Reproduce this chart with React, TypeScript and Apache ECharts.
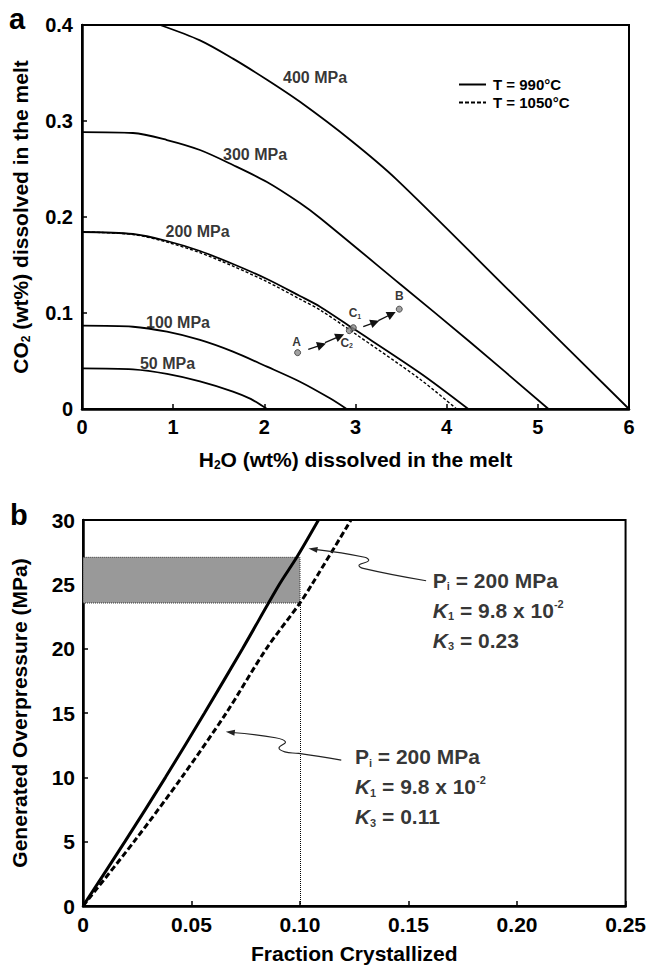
import React, { useEffect, useRef } from 'react';
import * as echarts from 'echarts';

const FONT = '"Liberation Sans", Arial, Helvetica, sans-serif';
const INK = '#000';

// ---------- Panel a : CO2 vs H2O isobars ----------
const xTicksA = [0, 1, 2, 3, 4, 5, 6];
const yTicksA = [0, 0.1, 0.2, 0.3, 0.4];

const iso400 = [[0.856, 0.4], [1.294, 0.384], [1.656, 0.365], [2.029, 0.343], [2.391, 0.32], [2.94, 0.2805], [3.452, 0.239], [4.7, 0.122], [6.0, 0]];
const iso300 = [[0, 0.2885], [0.559, 0.2875], [0.932, 0.2802], [1.294, 0.2698], [1.656, 0.2542], [2.029, 0.2365], [2.391, 0.2146], [2.611, 0.199], [3.488, 0.1302], [4.256, 0.0698], [5.117, 0]];
const iso200 = [[0, 0.1844], [0.559, 0.1823], [0.932, 0.175], [1.294, 0.1646], [1.656, 0.151], [2.029, 0.1354], [2.391, 0.1177], [2.611, 0.1066], [2.972, 0.084], [3.708, 0.0375], [4.237, 0]];
const iso200hot = [[0, 0.1844], [0.559, 0.1818], [0.932, 0.1738], [1.294, 0.1628], [1.656, 0.1488], [2.029, 0.1326], [2.391, 0.1145], [2.611, 0.1032], [2.972, 0.08], [3.708, 0.031], [4.11, 0]];
const iso100 = [[0, 0.0868], [0.559, 0.0857], [0.932, 0.0805], [1.294, 0.0719], [1.656, 0.0597], [2.029, 0.0441], [2.391, 0.0284], [2.72, 0.0111], [2.903, 0]];
const iso50 = [[0, 0.0424], [0.559, 0.0413], [0.932, 0.0366], [1.294, 0.0288], [1.656, 0.0182], [1.85, 0.0105], [2.03, 0]];

const legendNames = ['T = 990°C', 'T = 1050°C'];

const isobarLabels = [
  { name: '400 MPa', value: [2.556, 0.345] },
  { name: '300 MPa', value: [1.898, 0.2646] },
  { name: '200 MPa', value: [1.267, 0.1854] },
  { name: '100 MPa', value: [1.053, 0.0906] },
  { name: '50 MPa', value: [0.938, 0.0469] },
];

const samplePoints = [[2.365, 0.0587], [3.48, 0.104], [2.976, 0.0847], [2.932, 0.0816]];
const sampleLabels = [
  { name: '{m|A}', value: [2.355, 0.0701] },
  { name: '{m|B}', value: [3.48, 0.1177] },
  { name: '{m|C}{s|1}', value: [2.994, 0.1] },
  { name: '{m|C}{s|2}', value: [2.903, 0.0688] },
];
const pathArrows = [
  [[2.482, 0.0622], [2.629, 0.0667]],
  [[2.665, 0.0691], [2.83, 0.076]],
  [[3.085, 0.0857], [3.214, 0.0903]],
  [[3.25, 0.092], [3.397, 0.099]],
];

// ---------- Panel b : overpressure vs fraction crystallized ----------
const xTicksB = [0, 0.05, 0.1, 0.15, 0.2, 0.25];
const yTicksB = [0, 5, 10, 15, 20, 25, 30];
const curveK023 = [[0, 0], [0.0193, 5], [0.038, 10], [0.056, 15], [0.0735, 20], [0.0905, 25], [0.0985, 27.1], [0.1085, 30]];
const curveK011 = [[0, 0], [0.0235, 5], [0.0455, 10], [0.066, 15], [0.0845, 20], [0.1, 23.55], [0.1055, 25], [0.1235, 30]];
const bandLow = 23.55;
const bandHigh = 27.1;
const bandX = 0.1;

const connectorPaths = [
  [[0.1581, 25.28], [0.1291, 26.24], [0.1272, 26.5], [0.1316, 26.83], [0.1298, 27.1], [0.1039, 27.79]],
  [[0.119, 11.34], [0.0994, 11.86], [0.093, 11.98], [0.0903, 12.28], [0.0933, 12.75], [0.0887, 13.08], [0.0658, 13.54]],
];
const annotations = [
  { name: '{n|P}{s|i}{n| = 200 MPa}\n{k|K}{s|1}{n| = 9.8 x 10}{p|-2}\n{k|K}{s|3}{n| = 0.23}', value: [0.1612, 23.0] },
  { name: '{n|P}{s|i}{n| = 200 MPa}\n{k|K}{s|1}{n| = 9.8 x 10}{p|-2}\n{k|K}{s|3}{n| = 0.11}', value: [0.1253, 9.27] },
];

const bold = (size: number) => ({ fontFamily: FONT, fontWeight: 'bold' as const, fontSize: size, color: INK });
const plainLabel = { textBorderWidth: 0, textShadowBlur: 0, color: INK };

function buildOption(): any {
  const axisCommon = {
    type: 'value',
    splitLine: { show: false },
    axisLine: { show: true, onZero: false, lineStyle: { color: '#000', width: 2.5 } },
    axisTick: { show: true, inside: true, length: 5, lineStyle: { color: '#000', width: 1.5 } },
  };
  const solid = (data: number[][]) => ({
    type: 'line', name: legendNames[0], xAxisIndex: 0, yAxisIndex: 0, data, smooth: 0.3,
    symbol: 'none', lineStyle: { color: '#000', width: 1.8 }, itemStyle: { color: '#000' }, z: 3,
  });
  const annRich = {
    n: { ...bold(21), lineHeight: 30 },
    k: { ...bold(21), fontStyle: 'italic', lineHeight: 30 },
    s: { ...bold(11), padding: [12, 0, 0, 0] },
    p: { ...bold(11), padding: [0, 0, 13, 0] },
  };
  const subRich = { m: bold(21), s: { ...bold(12), padding: [12, 0, 0, 0] } };
  return {
    animation: false,
    backgroundColor: '#fff',
    textStyle: { fontFamily: FONT },
    title: [
      { text: 'a', left: 9, top: 4, padding: 0, textStyle: { ...bold(29) } },
      { text: 'b', left: 10, top: 500, padding: 0, textStyle: { ...bold(29) } },
    ],
    legend: {
      data: [
        { name: legendNames[0], icon: 'path://M0,0H27V2H0Z' },
        { name: legendNames[1], icon: 'path://M0,0H4V2H0Z M6,0H10V2H6Z M12,0H16V2H12Z M18,0H22V2H18Z M24,0H27V2H24Z' },
      ],
      orient: 'vertical', left: 459, top: 77,
      itemWidth: 27, itemHeight: 2, itemGap: 3, selectedMode: false, padding: 0,
      textStyle: { ...bold(15), padding: [0, 0, 0, 2] },
    },
    grid: [
      { left: 82, top: 25, width: 547, height: 384, show: true, borderColor: '#000', borderWidth: 2 },
      { left: 83, top: 520, width: 546, height: 386, show: true, borderColor: '#000', borderWidth: 2 },
    ],
    xAxis: [
      {
        ...axisCommon, gridIndex: 0, min: xTicksA[0], max: xTicksA[xTicksA.length - 1], interval: 1,
        axisLabel: { ...bold(20), margin: 8, showMinLabel: true, showMaxLabel: true },
        name: '{m|H}{s|2}{m|O (wt%) dissolved in the melt}', nameLocation: 'middle', nameGap: 38,
        nameTextStyle: { rich: subRich },
      },
      {
        ...axisCommon, gridIndex: 1, min: xTicksB[0], max: xTicksB[xTicksB.length - 1], interval: 0.05,
        axisLabel: { ...bold(21), margin: 8, showMinLabel: true, showMaxLabel: true, formatter: (v: number) => (v === 0 ? '0' : v.toFixed(2)) },
        name: 'Fraction Crystallized', nameLocation: 'middle', nameGap: 37, nameTextStyle: bold(21),
      },
    ],
    yAxis: [
      {
        ...axisCommon, gridIndex: 0, min: yTicksA[0], max: yTicksA[yTicksA.length - 1], interval: 0.1,
        axisLabel: { ...bold(20), margin: 9, showMinLabel: true, showMaxLabel: true, formatter: (v: number) => (v === 0 ? '0' : v.toFixed(1)) },
        name: '{m|CO}{s|2}{m| (wt%) dissolved in the melt}', nameLocation: 'middle', nameGap: 50,
        nameTextStyle: { rich: subRich },
      },
      {
        ...axisCommon, gridIndex: 1, min: yTicksB[0], max: yTicksB[yTicksB.length - 1], interval: 5,
        axisLabel: { ...bold(21), margin: 8, showMinLabel: true, showMaxLabel: true },
        name: 'Generated Overpressure (MPa)', nameLocation: 'middle', nameGap: 53, nameTextStyle: bold(21),
      },
    ],
    series: [
      solid(iso400), solid(iso300), solid(iso200), solid(iso100), solid(iso50),
      {
        type: 'line', name: legendNames[1], xAxisIndex: 0, yAxisIndex: 0, data: iso200hot, smooth: 0.3,
        symbol: 'none', lineStyle: { color: '#000', width: 1.4, type: [3, 2] }, itemStyle: { color: '#000' }, z: 3,
      },
      {
        type: 'scatter', xAxisIndex: 0, yAxisIndex: 0, symbolSize: 0, silent: true, z: 5,
        data: isobarLabels,
        label: { show: true, position: 'inside', formatter: (p: any) => p.name, ...bold(16), ...plainLabel },
      },
      {
        type: 'lines', coordinateSystem: 'cartesian2d', xAxisIndex: 0, yAxisIndex: 0, z: 4,
        symbol: ['none', 'triangle'], symbolSize: [7, 9],
        lineStyle: { color: '#111', width: 1.3, opacity: 1 },
        data: pathArrows.map((c) => ({ coords: c })),
      },
      {
        type: 'scatter', xAxisIndex: 0, yAxisIndex: 0, symbolSize: 6, z: 6,
        itemStyle: { color: '#8a8a8a', borderColor: '#333', borderWidth: 1 },
        data: samplePoints,
      },
      {
        type: 'scatter', xAxisIndex: 0, yAxisIndex: 0, symbolSize: 0, silent: true, z: 6,
        data: sampleLabels,
        label: {
          show: true, position: 'inside', formatter: (p: any) => p.name, ...plainLabel,
          rich: { m: bold(12), s: { ...bold(7), padding: [6, 0, 0, 0] } },
        },
      },
      // panel b
      {
        type: 'line', xAxisIndex: 1, yAxisIndex: 1, data: [], z: 1,
        markArea: {
          silent: true,
          itemStyle: { color: '#999999', borderColor: '#333', borderWidth: 1, borderType: 'dotted' },
          data: [[{ coord: [0, bandLow] }, { coord: [bandX, bandHigh] }]],
        },
        markLine: {
          silent: true, symbol: 'none', label: { show: false },
          lineStyle: { color: '#000', width: 1, type: 'dotted' },
          data: [[{ coord: [bandX, 0] }, { coord: [bandX, bandLow] }]],
        },
      },
      {
        type: 'line', name: 'K3 = 0.23', xAxisIndex: 1, yAxisIndex: 1, data: curveK023, smooth: 0.3,
        symbol: 'none', lineStyle: { color: '#000', width: 3 }, z: 3,
      },
      {
        type: 'line', name: 'K3 = 0.11', xAxisIndex: 1, yAxisIndex: 1, data: curveK011, smooth: 0.3,
        symbol: 'none', lineStyle: { color: '#000', width: 3, type: [6, 3] }, z: 3,
      },
      {
        type: 'custom', xAxisIndex: 1, yAxisIndex: 1, z: 4, silent: true, clip: false,
        data: connectorPaths.map((p) => p[p.length - 1]),
        renderItem: (params: any, api: any) => {
          const pts = connectorPaths[params.dataIndex].map((p) => api.coord(p));
          const n = pts.length;
          const tip = pts[n - 1];
          const prev = pts[n - 2];
          const dx = tip[0] - prev[0];
          const dy = tip[1] - prev[1];
          const len = Math.hypot(dx, dy) || 1;
          const ux = dx / len;
          const uy = dy / len;
          const L = 9;
          const W = 3;
          const base = [tip[0] - ux * L, tip[1] - uy * L];
          const head = [tip, [base[0] - uy * W, base[1] + ux * W], [base[0] + uy * W, base[1] - ux * W]];
          const linePts = pts.slice(0, n - 1).concat([[tip[0] - ux * L * 0.7, tip[1] - uy * L * 0.7]]);
          return {
            type: 'group',
            children: [
              { type: 'polyline', shape: { points: linePts, smooth: 0.45 }, style: { stroke: '#222', lineWidth: 1.1, fill: null } },
              { type: 'polygon', shape: { points: head }, style: { fill: '#222' } },
            ],
          };
        },
      },
      {
        type: 'scatter', xAxisIndex: 1, yAxisIndex: 1, symbolSize: 0, silent: true, z: 6,
        data: annotations,
        label: { show: true, position: 'right', distance: 0, formatter: (p: any) => p.name, ...plainLabel, rich: annRich },
      },
    ],
  };
}

export default function App() {
  const ref = useRef<HTMLDivElement>(null);
  useEffect(() => {
    if (!ref.current) return;
    const chart = echarts.init(ref.current, null, { renderer: 'svg' });
    chart.setOption(buildOption());
    return () => chart.dispose();
  }, []);
  return (
    <div
      ref={ref}
      style={{ position: 'fixed', left: 0, top: 0, width: 649, height: 965, background: '#fff' }}
    />
  );
}
